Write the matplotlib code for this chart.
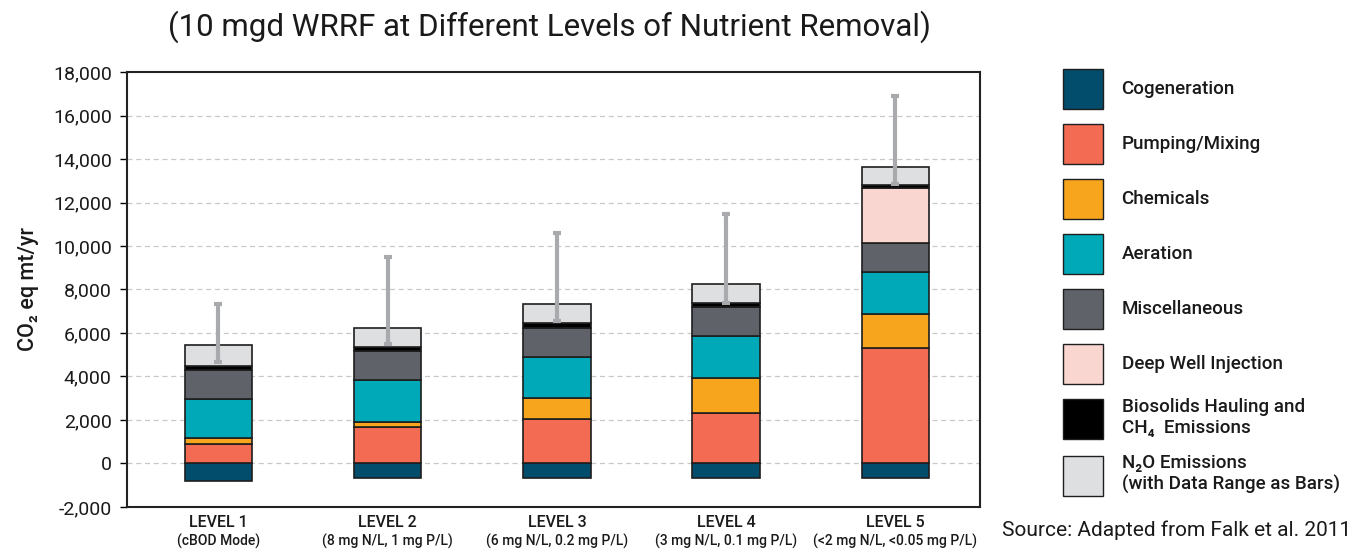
import matplotlib.pyplot as plt
import numpy as np
from matplotlib.patches import Patch

plt.rcParams["font.family"] = ["Roboto", "DejaVu Sans"]

LEVELS = ["LEVEL 1", "LEVEL 2", "LEVEL 3", "LEVEL 4", "LEVEL 5"]
LEVEL_NOTES = [
    "(cBOD Mode)",
    "(8 mg N/L, 1 mg P/L)",
    "(6 mg N/L, 0.2 mg P/L)",
    "(3 mg N/L, 0.1 mg P/L)",
    "(<2 mg N/L, <0.05 mg P/L)",
]

# stacked components, CO2 eq mt/yr
cogeneration = [-800, -680, -690, -650, -690]
pumping = [900, 1665, 2040, 2300, 5300]
chemicals = [270, 260, 955, 1630, 1570]
aeration = [1810, 1925, 1920, 1935, 1935]
misc = [1310, 1310, 1335, 1335, 1350]
deep_well = [0, 0, 0, 0, 2490]
biosolids = [200, 215, 200, 160, 150]
n2o = [950, 870, 875, 890, 840]

# N2O data range shown as bars
n2o_low = [4650, 5500, 6560, 7370, 12860]
n2o_high = [7320, 9510, 10600, 11470, 16920]

SERIES = [
    ("Pumping/Mixing", pumping, "#F26B52"),
    ("Chemicals", chemicals, "#F7A51C"),
    ("Aeration", aeration, "#00A9B8"),
    ("Miscellaneous", misc, "#5F6369"),
    ("Deep Well Injection", deep_well, "#F9D6D0"),
    ("Biosolids Hauling and\nCH\u2084  Emissions", biosolids, "#000000"),
    ("N\u2082O Emissions\n(with Data Range as Bars)", n2o, "#DEDFE1"),
]
COGEN_COLOR = "#024C6C"
EDGE = "#1E1E1E"
TEXT = "#1a1a1a"

fig = plt.figure(figsize=(13.64, 5.51), dpi=100)
ax = fig.add_axes([0.0931, 0.0799, 0.6254, 0.7894])

x = np.arange(len(LEVELS))
width = 0.40

ax.bar(x, cogeneration, width, color=COGEN_COLOR, edgecolor=EDGE, linewidth=1.2, zorder=3)
bottom = np.zeros(len(LEVELS))
for name, vals, color in SERIES:
    vals = np.array(vals, dtype=float)
    mask = vals > 0
    ax.bar(x[mask], vals[mask], width, bottom=bottom[mask], color=color,
           edgecolor=EDGE, linewidth=1.2, zorder=3)
    bottom += vals

mid = (np.array(n2o_low) + np.array(n2o_high)) / 2
half = (np.array(n2o_high) - np.array(n2o_low)) / 2
ax.errorbar(x, mid, yerr=half, fmt="none", ecolor="#A8AAAD", elinewidth=3,
            capsize=3.2, capthick=3, zorder=4)

ax.set_xlim(-0.54, 4.50)
ax.set_ylim(-2000, 18000)
yt = np.arange(-2000, 18001, 2000)
ax.set_yticks(yt)
ax.set_yticklabels([f"{v:,}" for v in yt], fontsize=14, color=TEXT)
ax.tick_params(axis="y", length=5, width=1, direction="out", pad=6)
ax.set_xticks(x)
ax.set_xticklabels([])
ax.tick_params(axis="x", length=0)
for xi, lvl, note in zip(x, LEVELS, LEVEL_NOTES):
    ax.annotate(lvl, (xi, 0), xycoords=("data", "axes fraction"), xytext=(0, -11.5),
                textcoords="offset points", ha="center", va="center", fontsize=11.5,
                fontweight="medium", color=TEXT)
    ax.annotate(note, (xi, 0), xycoords=("data", "axes fraction"), xytext=(0, -25),
                textcoords="offset points", ha="center", va="center", fontsize=10,
                fontweight="medium", color=TEXT)

for v in yt[1:-1]:
    ax.axhline(v, color="#C8C8C8", linestyle=(0, (4, 3)), linewidth=0.9, zorder=1)
for sp in ax.spines.values():
    sp.set_linewidth(1.5)
    sp.set_color("#222222")

ax.set_ylabel("CO\u2082 eq mt/yr", fontsize=15.5, fontweight="medium", color=TEXT, labelpad=10)
fig.text(0.403, 0.951, "(10 mgd WRRF at Different Levels of Nutrient Removal)",
         ha="center", va="center", fontsize=22.5, color=TEXT)

handles = [Patch(facecolor=COGEN_COLOR, edgecolor=EDGE, label="Cogeneration")]
handles += [Patch(facecolor=c, edgecolor=EDGE, label=n) for n, _, c in SERIES]
fig.legend(handles=handles, loc="upper left", bbox_to_anchor=(0.779, 0.875),
           frameon=False, prop={"size": 13.5, "weight": "medium"},
           handlelength=2.15, handleheight=2.9, labelspacing=0.8,
           handletextpad=1.0, borderpad=0, borderaxespad=0, labelcolor=TEXT)

fig.text(0.991, 0.02, "Source: Adapted from Falk et al. 2011", ha="right", va="bottom",
         fontsize=15, color=TEXT)

fig.savefig("out.png", dpi=100)
